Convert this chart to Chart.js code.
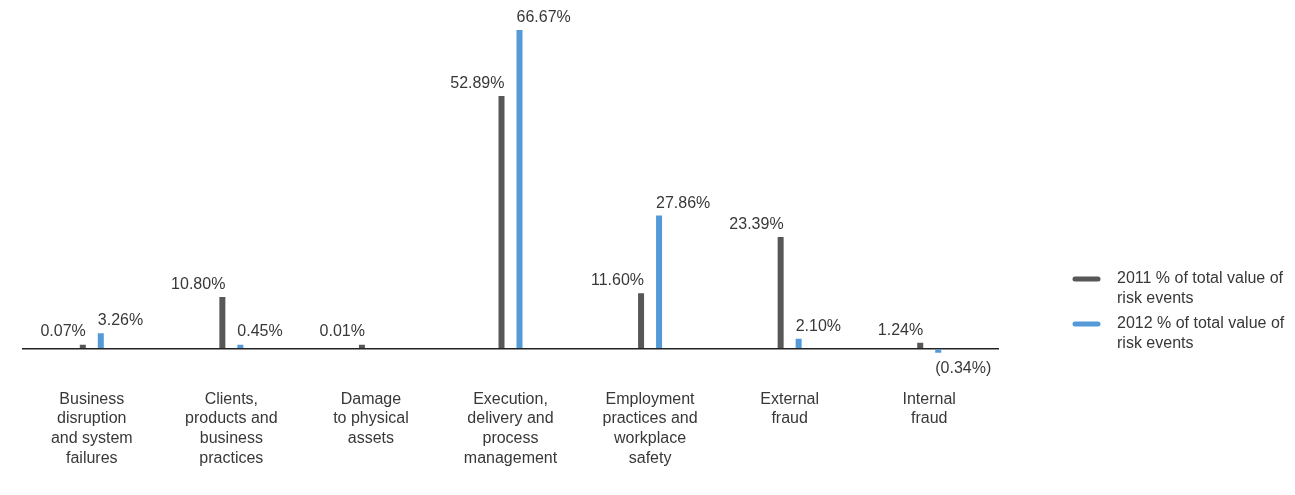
<!DOCTYPE html>
<html>
<head>
<meta charset="utf-8">
<script src="https://cdn.jsdelivr.net/npm/chart.js@4.4.1/dist/chart.umd.min.js"></script>
<style>
  html, body { margin: 0; padding: 0; background: #fff; }
  #wrap { position: relative; width: 1295px; height: 495px; }
</style>
</head>
<body>
<div id="wrap"><canvas id="riskChart"></canvas></div>
<script>
// 风险事件类型 & 两年占比
const categories = [
  ['Business', 'disruption', 'and system', 'failures'],
  ['Clients,', 'products and', 'business', 'practices'],
  ['Damage', 'to physical', 'assets'],
  ['Execution,', 'delivery and', 'process', 'management'],
  ['Employment', 'practices and', 'workplace', 'safety'],
  ['External', 'fraud'],
  ['Internal', 'fraud']
];
const share2011 = [0.07, 10.80, 0.01, 52.89, 11.60, 23.39, 1.24];
const share2012 = [3.26, 0.45, null, 66.67, 27.86, 2.10, -0.34];
const seriesNames = ['2011 % of total value of risk events', '2012 % of total value of risk events'];
const legendLines = [
  ['2011 % of total value of', 'risk events'],
  ['2012 % of total value of', 'risk events']
];
const colors = ['#575757', '#5499d8'];

const FONT = '"Liberation Sans", Arial, Helvetica, sans-serif';
const TEXT = '#383838';

function fmt(v) {
  return v < 0 ? '(' + Math.abs(v).toFixed(2) + '%)' : v.toFixed(2) + '%';
}

// 柱顶数值：2011 右对齐到柱右缘，2012 左对齐到柱左缘
const valueLabels = {
  id: 'valueLabels',
  afterDatasetsDraw(chart) {
    const ctx = chart.ctx;
    ctx.save();
    ctx.font = '16px ' + FONT;
    ctx.fillStyle = TEXT;
    ctx.textBaseline = 'alphabetic';
    chart.data.datasets.forEach((ds, di) => {
      const meta = chart.getDatasetMeta(di);
      meta.data.forEach((bar, i) => {
        const v = ds.data[i];
        if (v === null || v === undefined) return;
        const half = bar.width / 2;
        let x, y;
        if (di === 0) { ctx.textAlign = 'right'; x = bar.x + half; }
        else { ctx.textAlign = 'left'; x = bar.x - half; }
        if (v >= 0) y = Math.min(bar.y, bar.base - 4) - 8;
        else y = Math.max(bar.y, bar.base + 4) + 20;
        ctx.fillText(fmt(v), x, y);
      });
    });
    ctx.restore();
  }
};

// 右侧图例（两行文字）
const sideLegend = {
  id: 'sideLegend',
  afterDraw(chart) {
    const ctx = chart.ctx;
    ctx.save();
    ctx.font = '16px ' + FONT;
    ctx.fillStyle = TEXT;
    ctx.textAlign = 'left';
    ctx.textBaseline = 'middle';
    const startY = 279, itemGap = 45, lineGap = 19.5;
    legendLines.forEach((lines, i) => {
      const y = startY + i * itemGap;
      ctx.strokeStyle = colors[i];
      ctx.lineWidth = 5;
      ctx.lineCap = 'round';
      ctx.beginPath();
      ctx.moveTo(1075, y);
      ctx.lineTo(1098, y);
      ctx.stroke();
      lines.forEach((t, k) => ctx.fillText(t, 1117, y + k * lineGap));
    });
    ctx.restore();
  }
};

new Chart(document.getElementById('riskChart'), {
  type: 'bar',
  data: {
    labels: categories,
    datasets: [
      { label: seriesNames[0], data: share2011, backgroundColor: colors[0] },
      { label: seriesNames[1], data: share2012, backgroundColor: colors[1] }
    ]
  },
  options: {
    responsive: true,
    maintainAspectRatio: false,
    animation: false,
    layout: { padding: { left: 22, right: 296, top: 30, bottom: -4 } },
    datasets: { bar: { categoryPercentage: 0.258, barPercentage: 0.333, minBarLength: 4 } },
    plugins: { legend: { display: false }, tooltip: { enabled: false } },
    scales: {
      x: {
        grid: { display: false, drawTicks: false },
        border: { display: false },
        ticks: {
          color: TEXT, autoSkip: false, maxRotation: 0, padding: 31,
          font: { family: FONT, size: 16, lineHeight: 1.23 }
        }
      },
      y: {
        min: -2, max: 66.67,
        afterBuildTicks(axis) { axis.ticks = [{ value: 0 }]; },
        ticks: { display: false },
        border: { display: false },
        grid: { drawTicks: false, color: '#222', lineWidth: 1.5 }
      }
    }
  },
  plugins: [valueLabels, sideLegend]
});
</script>
</body>
</html>
